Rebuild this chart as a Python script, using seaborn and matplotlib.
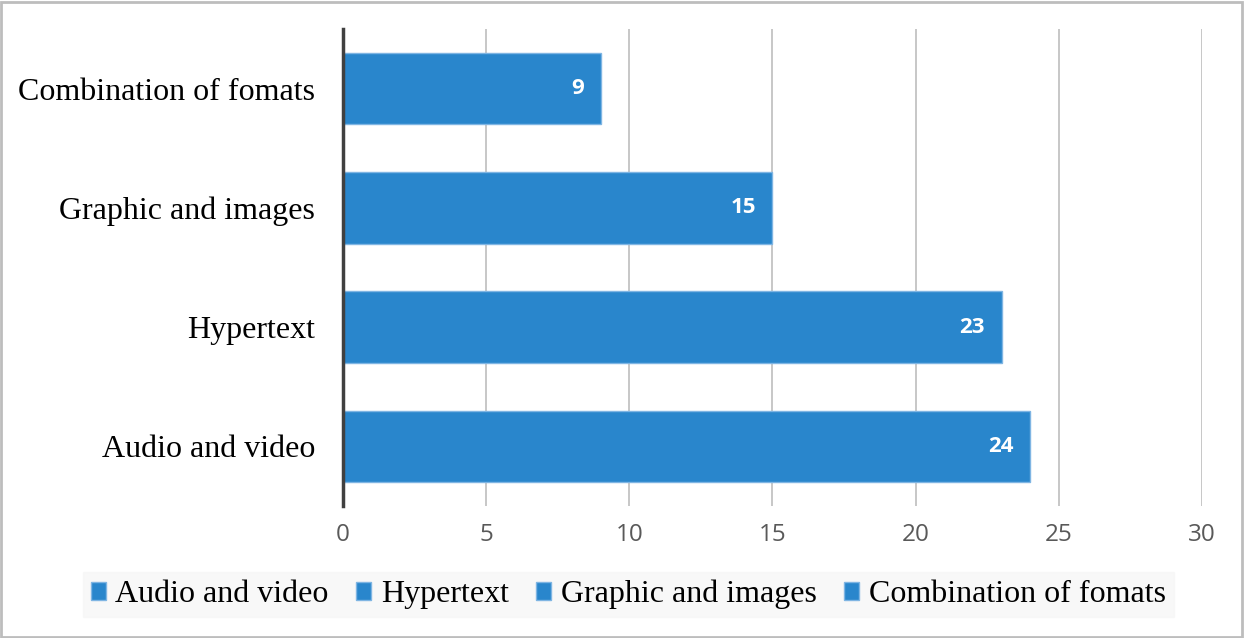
import pandas as pd
import matplotlib

matplotlib.use("Agg")
import matplotlib.pyplot as plt
import seaborn as sns
from matplotlib.patches import Rectangle

# chart data
categories = ["Combination of fomats", "Graphic and images", "Hypertext", "Audio and video"]
counts = [9, 15, 23, 24]
legend_order = ["Audio and video", "Hypertext", "Graphic and images", "Combination of fomats"]
x_ticks = [0, 5, 10, 15, 20, 25, 30]

bar_color = "#2986cc"

sns.set_theme(style="white")
plt.rcParams["font.family"] = ["Liberation Serif", "DejaVu Serif"]

df = pd.DataFrame({"category": categories, "count": counts})

fig = plt.figure(figsize=(12.44, 6.38), dpi=100)
ax = fig.add_axes([0.2757, 0.2069, 0.6905, 0.7476])

sns.barplot(
    data=df,
    x="count",
    y="category",
    hue="category",
    order=categories,
    hue_order=legend_order,
    palette=[bar_color] * len(legend_order),
    saturation=1,
    dodge=False,
    width=0.6,
    edgecolor="#7fb5e3",
    linewidth=1,
    legend=True,
    ax=ax,
)

# value labels inside the bar ends
for p in ax.patches:
    w = p.get_width()
    if w <= 0:
        continue
    ax.annotate(
        f"{int(round(w))}",
        (p.get_x() + w, p.get_y() + p.get_height() / 2),
        xytext=(-12, 0),
        textcoords="offset points",
        ha="right",
        va="center",
        color="white",
        fontsize=16,
        fontweight="bold",
        family=["Open Sans", "DejaVu Sans"],
    )

ax.set_xlim(0, 30)
ax.set_xticks(x_ticks)
ax.set_xticklabels([str(t) for t in x_ticks], family=["Open Sans", "DejaVu Sans"], fontsize=17.5, color="#595959")
ax.tick_params(axis="x", length=0, pad=12)
ax.tick_params(axis="y", length=0, pad=20, labelsize=23, labelcolor="black")
ax.set_xlabel("")
ax.set_ylabel("")

ax.grid(axis="x", color="#bdbdbd", linewidth=1.2)
ax.grid(axis="y", visible=False)
ax.set_axisbelow(True)
for side in ["top", "right", "bottom"]:
    ax.spines[side].set_visible(False)
ax.spines["left"].set_color("#404040")
ax.spines["left"].set_linewidth(2.5)
ax.spines["left"].set_zorder(5)

# legend at the bottom
handles, labels = ax.get_legend_handles_labels()
ax.get_legend().remove()
leg = fig.legend(
    handles,
    labels,
    loc="center",
    bbox_to_anchor=(0.505, 0.068),
    ncol=4,
    frameon=True,
    fontsize=23,
    labelcolor="black",
    handlelength=0.48,
    handleheight=0.48,
    handletextpad=0.3,
    columnspacing=0.85,
    borderpad=0.25,
    borderaxespad=0,
    fancybox=False,
)
leg.get_frame().set_facecolor("#f7f7f7")
leg.get_frame().set_edgecolor("#f7f7f7")

# outer chart border
fig.patches.append(
    Rectangle((0.001, 0.002), 0.997, 0.995, transform=fig.transFigure,
              fill=False, edgecolor="#bdbdbd", linewidth=2)
)

fig.savefig("out.png", dpi=100, facecolor="white")
